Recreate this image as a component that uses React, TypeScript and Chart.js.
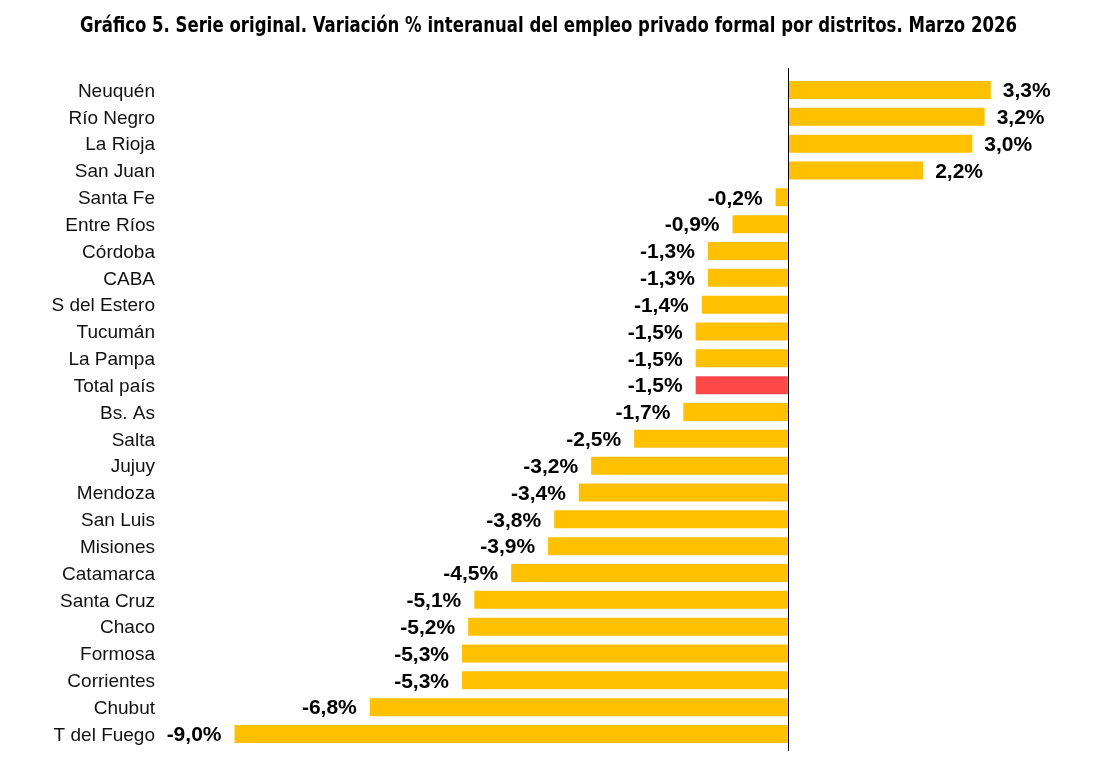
import React, { useEffect, useRef } from "react";
import { Chart, registerables } from "chart.js";

Chart.register(...registerables);

const TITLE = "Gráfico 5. Serie original. Variación % interanual del empleo privado formal por distritos. Marzo 2026";

const categories = [
  "Neuquén", "Río Negro", "La Rioja", "San Juan", "Santa Fe", "Entre Ríos", "Córdoba", "CABA",
  "S del Estero", "Tucumán", "La Pampa", "Total país", "Bs. As", "Salta", "Jujuy", "Mendoza",
  "San Luis", "Misiones", "Catamarca", "Santa Cruz", "Chaco", "Formosa", "Corrientes", "Chubut", "T del Fuego",
];

const values = [
  3.3, 3.2, 3.0, 2.2, -0.2, -0.9, -1.3, -1.3,
  -1.4, -1.5, -1.5, -1.5, -1.7, -2.5, -3.2, -3.4,
  -3.8, -3.9, -4.5, -5.1, -5.2, -5.3, -5.3, -6.8, -9.0,
];

const highlight = "Total país";
const YELLOW = "#FFC000";
const RED = "#FF4848";

const fmt = (v: number) => v.toFixed(1).replace(".", ",") + "%";

const titlePlugin = {
  id: "condensedTitle",
  afterDraw(chart: any) {
    const { ctx, width } = chart;
    ctx.save();
    ctx.font = "bold 20.5px 'DejaVu Sans Condensed', 'DejaVu Sans'";
    ctx.fillStyle = "#000";
    ctx.textAlign = "center";
    ctx.textBaseline = "alphabetic";
    const w = ctx.measureText(TITLE).width;
    const target = 937;
    const sx = target / w;
    ctx.translate(width / 2 - 1, 31.5);
    ctx.scale(sx, 1);
    ctx.fillText(TITLE, 0, 0);
    ctx.restore();
  },
};

const valueLabels = {
  id: "valueLabels",
  afterDatasetsDraw(chart: any) {
    const { ctx, chartArea } = chart;
    const meta = chart.getDatasetMeta(0);
    ctx.save();
    ctx.font = "bold 21px 'Liberation Sans', Arial";
    ctx.fillStyle = "#000";
    ctx.textBaseline = "middle";
    meta.data.forEach((bar: any, i: number) => {
      const v = values[i];
      if (v >= 0) {
        ctx.textAlign = "left";
        ctx.fillText(fmt(v), bar.x + 12, bar.y + 1.5);
      } else {
        ctx.textAlign = "right";
        ctx.fillText(fmt(v), bar.x - 13, bar.y + 1.5);
      }
    });
    const x0 = chart.scales.x.getPixelForValue(0);
    ctx.strokeStyle = "#000";
    ctx.lineWidth = 1;
    ctx.beginPath();
    ctx.moveTo(Math.round(x0) + 0.5, chartArea.top - 8.5);
    ctx.lineTo(Math.round(x0) + 0.5, chartArea.bottom + 3.5);
    ctx.stroke();
    ctx.restore();
  },
};

export default function App() {
  const ref = useRef<HTMLCanvasElement | null>(null);
  useEffect(() => {
    if (!ref.current) return;
    const chart = new Chart(ref.current, {
      type: "bar",
      data: {
        labels: categories,
        datasets: [
          {
            data: values,
            backgroundColor: categories.map((c) => (c === highlight ? RED : YELLOW)),
            borderWidth: 0,
            categoryPercentage: 1,
            barPercentage: 0.67,
          },
        ],
      },
      options: {
        indexAxis: "y",
        animation: false,
        responsive: true,
        maintainAspectRatio: false,
        layout: { padding: { left: 0, right: 0, top: 76.6, bottom: 21.6 } },
        plugins: {
          legend: { display: false },
          tooltip: { enabled: false },
          title: { display: false },
        },
        scales: {
          x: { display: false, min: -10, max: 5.06 },
          y: {
            grid: { display: false, drawTicks: false },
            border: { display: false },
            ticks: {
              color: "#111",
              padding: 18,
              labelOffset: 1.5,
              font: { family: "'Liberation Sans', Arial", size: 19 },
            },
            afterFit: (scale: any) => {
              scale.width = 173;
              scale.paddingTop = 0;
              scale.paddingBottom = 0;
            },
          },
        },
      },
      plugins: [valueLabels, titlePlugin],
    });
    return () => chart.destroy();
  }, []);
  return (
    <div style={{ position: "absolute", left: 0, top: 0, width: 1099, height: 769, background: "#fff" }}>
      <canvas ref={ref} />
    </div>
  );
}
